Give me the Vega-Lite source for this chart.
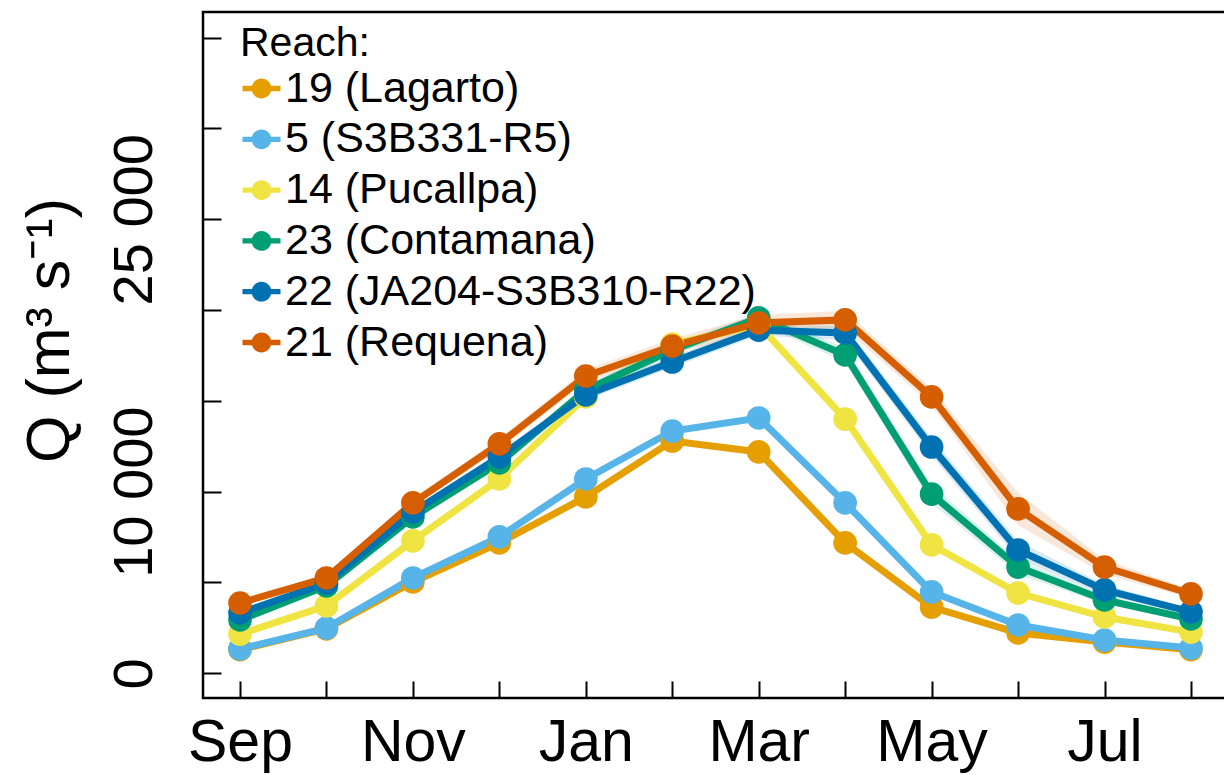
{
  "$schema": "https://vega.github.io/schema/vega-lite/v6.json",
  "width": 1024,
  "height": 686,
  "autosize": "none",
  "padding": {"left": 203, "top": 12, "right": 0, "bottom": 77},
  "background": "white",
  "config": {
    "font": "Liberation Sans",
    "view": {"stroke": "black", "strokeWidth": 2.5},
    "axis": {"grid": false, "domain": false, "tickColor": "black", "tickWidth": 2, "labelColor": "black", "titleColor": "black", "labelFont": "Liberation Sans", "titleFont": "Liberation Sans", "labelOverlap": false, "labelFlush": false}
  },
  "data": {"values": [
    {"r": "19 (Lagarto)", "m": 1, "q": 1300, "lo": 1200, "hi": 1400},
    {"r": "19 (Lagarto)", "m": 2, "q": 2450, "lo": 2350, "hi": 2550},
    {"r": "19 (Lagarto)", "m": 3, "q": 5030, "lo": 4930, "hi": 5130},
    {"r": "19 (Lagarto)", "m": 4, "q": 7180, "lo": 7080, "hi": 7280},
    {"r": "19 (Lagarto)", "m": 5, "q": 9710, "lo": 9610, "hi": 9810},
    {"r": "19 (Lagarto)", "m": 6, "q": 12790, "lo": 12690, "hi": 12890},
    {"r": "19 (Lagarto)", "m": 7, "q": 12190, "lo": 12090, "hi": 12290},
    {"r": "19 (Lagarto)", "m": 8, "q": 7180, "lo": 7080, "hi": 7280},
    {"r": "19 (Lagarto)", "m": 9, "q": 3650, "lo": 3550, "hi": 3750},
    {"r": "19 (Lagarto)", "m": 10, "q": 2220, "lo": 2120, "hi": 2320},
    {"r": "19 (Lagarto)", "m": 11, "q": 1720, "lo": 1620, "hi": 1820},
    {"r": "19 (Lagarto)", "m": 12, "q": 1300, "lo": 1200, "hi": 1400},
    {"r": "5 (S3B331-R5)", "m": 1, "q": 1340, "lo": 1190, "hi": 1490},
    {"r": "5 (S3B331-R5)", "m": 2, "q": 2490, "lo": 2340, "hi": 2640},
    {"r": "5 (S3B331-R5)", "m": 3, "q": 5250, "lo": 5100, "hi": 5400},
    {"r": "5 (S3B331-R5)", "m": 4, "q": 7510, "lo": 7360, "hi": 7660},
    {"r": "5 (S3B331-R5)", "m": 5, "q": 10700, "lo": 10550, "hi": 10850},
    {"r": "5 (S3B331-R5)", "m": 6, "q": 13340, "lo": 13190, "hi": 13490},
    {"r": "5 (S3B331-R5)", "m": 7, "q": 14060, "lo": 13910, "hi": 14210},
    {"r": "5 (S3B331-R5)", "m": 8, "q": 9380, "lo": 9230, "hi": 9530},
    {"r": "5 (S3B331-R5)", "m": 9, "q": 4480, "lo": 4330, "hi": 4630},
    {"r": "5 (S3B331-R5)", "m": 10, "q": 2660, "lo": 2510, "hi": 2810},
    {"r": "5 (S3B331-R5)", "m": 11, "q": 1830, "lo": 1680, "hi": 1980},
    {"r": "5 (S3B331-R5)", "m": 12, "q": 1390, "lo": 1240, "hi": 1540},
    {"r": "14 (Pucallpa)", "m": 1, "q": 2160, "lo": 2010, "hi": 2310},
    {"r": "14 (Pucallpa)", "m": 2, "q": 3710, "lo": 3560, "hi": 3860},
    {"r": "14 (Pucallpa)", "m": 3, "q": 7290, "lo": 7140, "hi": 7440},
    {"r": "14 (Pucallpa)", "m": 4, "q": 10700, "lo": 10550, "hi": 10850},
    {"r": "14 (Pucallpa)", "m": 5, "q": 15220, "lo": 15070, "hi": 15370},
    {"r": "14 (Pucallpa)", "m": 6, "q": 18130, "lo": 17980, "hi": 18280},
    {"r": "14 (Pucallpa)", "m": 7, "q": 19180, "lo": 19030, "hi": 19330},
    {"r": "14 (Pucallpa)", "m": 8, "q": 14000, "lo": 13850, "hi": 14150},
    {"r": "14 (Pucallpa)", "m": 9, "q": 7070, "lo": 6920, "hi": 7220},
    {"r": "14 (Pucallpa)", "m": 10, "q": 4420, "lo": 4270, "hi": 4570},
    {"r": "14 (Pucallpa)", "m": 11, "q": 3100, "lo": 2950, "hi": 3250},
    {"r": "14 (Pucallpa)", "m": 12, "q": 2270, "lo": 2120, "hi": 2420},
    {"r": "23 (Contamana)", "m": 1, "q": 2940, "lo": 2840, "hi": 3040},
    {"r": "23 (Contamana)", "m": 2, "q": 4810, "lo": 4660, "hi": 4960},
    {"r": "23 (Contamana)", "m": 3, "q": 8610, "lo": 8410, "hi": 8810},
    {"r": "23 (Contamana)", "m": 4, "q": 11580, "lo": 11330, "hi": 11830},
    {"r": "23 (Contamana)", "m": 5, "q": 15600, "lo": 15300, "hi": 15900},
    {"r": "23 (Contamana)", "m": 6, "q": 17800, "lo": 17500, "hi": 18100},
    {"r": "23 (Contamana)", "m": 7, "q": 19570, "lo": 19270, "hi": 19870},
    {"r": "23 (Contamana)", "m": 8, "q": 17530, "lo": 17130, "hi": 17930},
    {"r": "23 (Contamana)", "m": 9, "q": 9870, "lo": 9370, "hi": 10370},
    {"r": "23 (Contamana)", "m": 10, "q": 5850, "lo": 5450, "hi": 6250},
    {"r": "23 (Contamana)", "m": 11, "q": 4040, "lo": 3790, "hi": 4290},
    {"r": "23 (Contamana)", "m": 12, "q": 2990, "lo": 2840, "hi": 3140},
    {"r": "22 (JA204-S3B310-R22)", "m": 1, "q": 3320, "lo": 3220, "hi": 3420},
    {"r": "22 (JA204-S3B310-R22)", "m": 2, "q": 4970, "lo": 4820, "hi": 5120},
    {"r": "22 (JA204-S3B310-R22)", "m": 3, "q": 8880, "lo": 8680, "hi": 9080},
    {"r": "22 (JA204-S3B310-R22)", "m": 4, "q": 11910, "lo": 11660, "hi": 12160},
    {"r": "22 (JA204-S3B310-R22)", "m": 5, "q": 15330, "lo": 15030, "hi": 15630},
    {"r": "22 (JA204-S3B310-R22)", "m": 6, "q": 17140, "lo": 16840, "hi": 17440},
    {"r": "22 (JA204-S3B310-R22)", "m": 7, "q": 18900, "lo": 18600, "hi": 19200},
    {"r": "22 (JA204-S3B310-R22)", "m": 8, "q": 18740, "lo": 18340, "hi": 19140},
    {"r": "22 (JA204-S3B310-R22)", "m": 9, "q": 12460, "lo": 11960, "hi": 12960},
    {"r": "22 (JA204-S3B310-R22)", "m": 10, "q": 6790, "lo": 6290, "hi": 7290},
    {"r": "22 (JA204-S3B310-R22)", "m": 11, "q": 4590, "lo": 4290, "hi": 4890},
    {"r": "22 (JA204-S3B310-R22)", "m": 12, "q": 3380, "lo": 3230, "hi": 3530},
    {"r": "21 (Requena)", "m": 1, "q": 3870, "lo": 3720, "hi": 4020},
    {"r": "21 (Requena)", "m": 2, "q": 5250, "lo": 5050, "hi": 5450},
    {"r": "21 (Requena)", "m": 3, "q": 9380, "lo": 9130, "hi": 9630},
    {"r": "21 (Requena)", "m": 4, "q": 12630, "lo": 12330, "hi": 12930},
    {"r": "21 (Requena)", "m": 5, "q": 16370, "lo": 16020, "hi": 16720},
    {"r": "21 (Requena)", "m": 6, "q": 18020, "lo": 17620, "hi": 18420},
    {"r": "21 (Requena)", "m": 7, "q": 19290, "lo": 18840, "hi": 19740},
    {"r": "21 (Requena)", "m": 8, "q": 19460, "lo": 18960, "hi": 19960},
    {"r": "21 (Requena)", "m": 9, "q": 15220, "lo": 14770, "hi": 15670},
    {"r": "21 (Requena)", "m": 10, "q": 9050, "lo": 8150, "hi": 9950},
    {"r": "21 (Requena)", "m": 11, "q": 5850, "lo": 5450, "hi": 6250},
    {"r": "21 (Requena)", "m": 12, "q": 4370, "lo": 4120, "hi": 4620}
  ]},
  "encoding": {
    "x": {
      "field": "m", "type": "quantitative",
      "scale": {"domain": [0.572, 12.417], "nice": false, "zero": false},
      "axis": {
        "title": null,
        "values": [1, 2, 3, 4, 5, 6, 7, 8, 9, 10, 11, 12],
        "labelExpr": "['Sep','','Nov','','Jan','','Mar','','May','','Jul',''][datum.value-1]",
        "tickSize": -17,
        "labelFontSize": 59,
        "labelBaseline": "alphabetic",
        "labelAlign": "center",
        "labelPadding": 79
      }
    },
    "y": {
      "field": "q", "type": "quantitative",
      "scale": {"domain": [-1360, 36414], "nice": false, "zero": false},
      "axis": {
        "title": "Q (m³ s⁻¹)",
        "values": [0, 5000, 10000, 15000, 20000, 25000, 30000, 35000],
        "labelExpr": "datum.value == 0 ? '0' : datum.value == 10000 ? '10 000' : datum.value == 25000 ? '25 000' : ''",
        "tickSize": -18,
        "labelFontSize": 56,
        "labelAngle": 270,
        "labelAlign": "center",
        "labelBaseline": "alphabetic",
        "labelPadding": 70,
        "titleFontSize": 61,
        "titleFontWeight": "normal",
        "titleAngle": 270,
        "titleAlign": "center",
        "titleBaseline": "middle",
        "titleX": -153,
        "titleY": 318
      }
    },
    "color": {
      "field": "r", "type": "nominal",
      "scale": {
        "domain": ["19 (Lagarto)", "5 (S3B331-R5)", "14 (Pucallpa)", "23 (Contamana)", "22 (JA204-S3B310-R22)", "21 (Requena)"],
        "range": ["#E69F00", "#56B4E9", "#F0E442", "#009E73", "#0072B2", "#D55E00"]
      },
      "legend": {
        "title": "Reach:",
        "orient": "none",
        "legendX": 37,
        "legendY": 12,
        "padding": 0,
        "titleFontSize": 41,
        "titleFontWeight": "normal",
        "titleColor": "black",
        "titleFont": "Liberation Sans",
        "titlePadding": 2,
        "labelFontSize": 43,
        "labelColor": "black",
        "labelFont": "Liberation Sans",
        "labelOffset": 2,
        "labelLimit": 0,
        "rowPadding": 6.8,
        "symbolSize": 1444,
        "symbolType": "M-1,-0.14H1V0.14H-1Z M-0.52,0A0.52,0.52 0 1,1 0.52,0A0.52,0.52 0 1,1 -0.52,0Z",
        "symbolStrokeWidth": 0,
        "encode": {"symbols": {"update": {"fill": {"scale": "color", "field": "value"}, "stroke": {"value": "transparent"}, "opacity": {"value": 1}}}}
      }
    }
  },
  "layer": [
    {
      "mark": {"type": "area", "opacity": 0.15},
      "encoding": {
        "y": {"field": "lo", "type": "quantitative"},
        "y2": {"field": "hi"}
      }
    },
    {
      "mark": {"type": "line", "strokeWidth": 7},
      "encoding": {}
    },
    {
      "mark": {"type": "circle", "size": 560, "opacity": 1},
      "encoding": {}
    }
  ]
}
